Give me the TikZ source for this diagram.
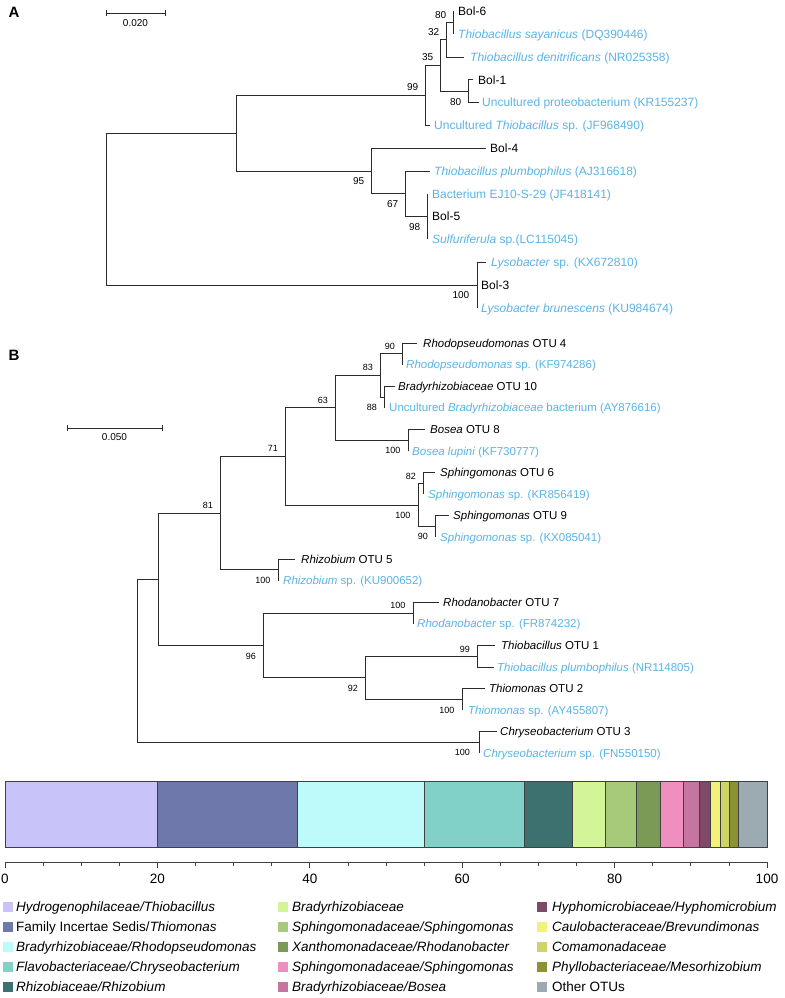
\documentclass[tikz,border=0pt]{standalone}
\usepackage{fontspec}
\setmainfont{Liberation Sans}
\usetikzlibrary{calc}
\definecolor{refblue}{HTML}{5AB4E6}
\definecolor{brc}{HTML}{2B2B2B}
\definecolor{cA}{HTML}{C8C4FA}
\definecolor{cB}{HTML}{6E78AA}
\definecolor{cC}{HTML}{BDFBFB}
\definecolor{cD}{HTML}{82D1C8}
\definecolor{cE}{HTML}{3D7170}
\definecolor{cF}{HTML}{D4F597}
\definecolor{cG}{HTML}{A6C97A}
\definecolor{cH}{HTML}{7A9A55}
\definecolor{cI}{HTML}{F08EC0}
\definecolor{cJ}{HTML}{C475A0}
\definecolor{cK}{HTML}{7E4A68}
\definecolor{cL}{HTML}{F2F27A}
\definecolor{cM}{HTML}{CED465}
\definecolor{cN}{HTML}{8A9234}
\definecolor{cO}{HTML}{9CABB2}
\begin{document}
\begin{tikzpicture}[x=1pt,y=-1pt,
 br/.style={draw=brc, line width=0.9pt},
 tipA/.style={anchor=west, inner sep=0pt, font=\fontsize{12}{14}\selectfont, text height=8.6pt, text depth=0pt},
 refA/.style={tipA, text=refblue},
 tipB/.style={anchor=west, inner sep=0pt, font=\fontsize{11.5}{13}\selectfont, text height=8.2pt, text depth=0pt},
 refB/.style={tipB, text=refblue},
 bsA/.style={inner sep=0pt, font=\fontsize{10}{12}\selectfont, text height=7.2pt, text depth=0pt},
 bsB/.style={inner sep=0pt, font=\fontsize{9}{11}\selectfont, text height=6.5pt, text depth=0pt},
 bup/.style={anchor=south east},
 bdn/.style={anchor=north east},
 panel/.style={inner sep=0pt, font=\bfseries\fontsize{15}{17}\selectfont},
 sclab/.style={inner sep=0pt, font=\fontsize{10}{12}\selectfont},
 axlab/.style={inner sep=0pt, font=\fontsize{13.5}{15}\selectfont},
 legsq/.style={minimum size=10.5pt, inner sep=0pt, draw=none},
 legtx/.style={anchor=west, inner sep=0pt, font=\fontsize{13.5}{15}\selectfont, text height=9.7pt, text depth=0pt},
 seg/.style={draw=black!75, line width=0.6pt}
]
\path[use as bounding box] (0,0) rectangle (784,998);
\fill[white] (0,0) rectangle (784,998);

% ---------------- Panel A ----------------
\node[panel] (labA) at (14,12) {A};
\coordinate (sA1) at (106,13);
\coordinate (sA2) at (165,13);
\draw[br] (sA1) -- (sA2);
\draw[br] ($(sA1)+(0,-3)$) -- ($(sA1)+(0,3)$);
\draw[br] ($(sA2)+(0,-3)$) -- ($(sA2)+(0,3)$);
\node[sclab] (scA) at (135.5,23.5) {0.020};

\coordinate (rA) at (106,209);
\coordinate (a1) at (236,133.2);
\coordinate (a99) at (425,95.5);
\coordinate (a35) at (440,65.55);
\coordinate (a32) at (446,39.9);
\coordinate (a80) at (453,22.8);
\coordinate (a80b) at (468,91.2);
\coordinate (a95) at (371,171);
\coordinate (a67) at (405,193.8);
\coordinate (a98) at (427,216.6);
\coordinate (a100) at (477,285);

\coordinate (tA0) at (453,11.4);
\coordinate (tA1) at (453,34.2);
\coordinate (tA2) at (464,57);
\coordinate (tA3) at (473,79.8);
\coordinate (tA4) at (479,102.6);
\coordinate (tA5) at (430,125.4);
\coordinate (tA6) at (486,148.2);
\coordinate (tA7) at (430,171);
\coordinate (tA8) at (427,193.8);
\coordinate (tA9) at (427,216.6);
\coordinate (tA10) at (427,239.4);
\coordinate (tA11) at (486,262.2);
\coordinate (tA12) at (477,285);
\coordinate (tA13) at (477,307.8);

\node[tipA] (lA0) at (458,11.4) {Bol-6};
\node[refA] (lA1) at (458,34.2) {\textit{Thiobacillus sayanicus} (DQ390446)};
\node[refA] (lA2) at (470,57) {\textit{Thiobacillus denitrificans} (NR025358)};
\node[tipA] (lA3) at (478,79.8) {Bol-1};
\node[refA] (lA4) at (482,102.6) {Uncultured proteobacterium (KR155237)};
\node[refA] (lA5) at (434,125.4) {Uncultured \textit{Thiobacillus} sp. (JF968490)};
\node[tipA] (lA6) at (490,148.2) {Bol-4};
\node[refA] (lA7) at (434,171) {\textit{Thiobacillus plumbophilus} (AJ316618)};
\node[refA] (lA8) at (432,193.8) {Bacterium EJ10-S-29 (JF418141)};
\node[tipA] (lA9) at (432,216.6) {Bol-5};
\node[refA] (lA10) at (432,239.4) {\textit{Sulfuriferula} sp.(LC115045)};
\node[refA] (lA11) at (491,262.2) {\textit{Lysobacter} sp. (KX672810)};
\node[tipA] (lA12) at (481,285) {Bol-3};
\node[refA] (lA13) at (481,307.8) {\textit{Lysobacter brunescens} (KU984674)};

\draw[br] (rA) |- (a1);
\draw[br] (rA) |- (a100);
\draw[br] (a1) |- (a99);
\draw[br] (a1) |- (a95);
\draw[br] (a99) |- (a35);
\draw[br] (a99) |- (tA5);
\draw[br] (a35) |- (a32);
\draw[br] (a35) |- (a80b);
\draw[br] (a32) |- (a80);
\draw[br] (a32) |- (tA2);
\draw[br] (a80) |- (tA0);
\draw[br] (a80) |- (tA1);
\draw[br] (a80b) |- (tA3);
\draw[br] (a80b) |- (tA4);
\draw[br] (a95) |- (tA6);
\draw[br] (a95) |- (a67);
\draw[br] (a67) |- (tA7);
\draw[br] (a67) |- (a98);
\draw[br] (a98) |- (tA8);
\draw[br] (a98) |- (tA10);
\draw[br] (a100) |- (tA11);
\draw[br] (a100) |- (tA13);

\node[bsA,bup] (bA80) at ($(a80)+(-6.5,-4.4)$) {80};
\node[bsA,bup] (bA32) at ($(a32)+(-6.5,-4.4)$) {32};
\node[bsA,bup] (bA35) at ($(a35)+(-6.5,-4.4)$) {35};
\node[bsA,bup] (bA99) at ($(a99)+(-6.5,-4.4)$) {99};
\node[bsA,bdn] (bA80b) at ($(a80b)+(-6.5,6.4)$) {80};
\node[bsA,bdn] (bA95) at ($(a95)+(-6.5,6.4)$) {95};
\node[bsA,bdn] (bA67) at ($(a67)+(-6.5,6.4)$) {67};
\node[bsA,bdn] (bA98) at ($(a98)+(-6.5,6.4)$) {98};
\node[bsA,bdn] (bA100) at ($(a100)+(-7.5,6.4)$) {100};

% ---------------- Panel B ----------------
\node[panel] (labB) at (14,355) {B};
\coordinate (sB1) at (67,428);
\coordinate (sB2) at (162,428);
\draw[br] (sB1) -- (sB2);
\draw[br] ($(sB1)+(0,-3)$) -- ($(sB1)+(0,3)$);
\draw[br] ($(sB2)+(0,-3)$) -- ($(sB2)+(0,3)$);
\node[sclab] (scB) at (114.5,437.5) {0.050};

\coordinate (rB) at (137,660.9);
\coordinate (bX) at (158,579.25);
\coordinate (b81) at (220,513.1);
\coordinate (b71) at (285,456.4);
\coordinate (b63) at (335,407.8);
\coordinate (b83) at (380,375.4);
\coordinate (b90a) at (402,353.8);
\coordinate (b88) at (384,397);
\coordinate (b100a) at (408,440.2);
\coordinate (b100b) at (418,505);
\coordinate (b82) at (423,483.4);
\coordinate (b90b) at (435,526.6);
\coordinate (b100c) at (278,569.8);
\coordinate (b96) at (263,645.4);
\coordinate (b100d) at (413,613);
\coordinate (b92) at (365,677.8);
\coordinate (b99) at (477,656.2);
\coordinate (b100e) at (462,699.4);
\coordinate (b100f) at (479,742.6);

\coordinate (tB0) at (417,343);
\coordinate (tB1) at (402,364.6);
\coordinate (tB2) at (395,386.2);
\coordinate (tB3) at (384,407.8);
\coordinate (tB4) at (425,429.4);
\coordinate (tB5) at (408,451);
\coordinate (tB6) at (435,472.6);
\coordinate (tB7) at (423,494.2);
\coordinate (tB8) at (449,515.8);
\coordinate (tB9) at (435,537.4);
\coordinate (tB10) at (295,559);
\coordinate (tB11) at (278,580.6);
\coordinate (tB12) at (439,602.2);
\coordinate (tB13) at (413,623.8);
\coordinate (tB14) at (495,645.4);
\coordinate (tB15) at (494,667);
\coordinate (tB16) at (485,688.6);
\coordinate (tB17) at (462,710.2);
\coordinate (tB18) at (497,731.8);
\coordinate (tB19) at (479,753.4);

\node[tipB] (lB0) at (423,343) {\textit{Rhodopseudomonas} OTU 4};
\node[refB] (lB1) at (406,364.6) {\textit{Rhodopseudomonas} sp. (KF974286)};
\node[tipB] (lB2) at (398,386.2) {\textit{Bradyrhizobiaceae} OTU 10};
\node[refB] (lB3) at (389,407.8) {Uncultured \textit{Bradyrhizobiaceae} bacterium (AY876616)};
\node[tipB] (lB4) at (430,429.4) {\textit{Bosea} OTU 8};
\node[refB] (lB5) at (412,451) {\textit{Bosea lupini} (KF730777)};
\node[tipB] (lB6) at (440,472.6) {\textit{Sphingomonas} OTU 6};
\node[refB] (lB7) at (428,494.2) {\textit{Sphingomonas} sp. (KR856419)};
\node[tipB] (lB8) at (453,515.8) {\textit{Sphingomonas} OTU 9};
\node[refB] (lB9) at (440,537.4) {\textit{Sphingomonas} sp. (KX085041)};
\node[tipB] (lB10) at (301,559) {\textit{Rhizobium} OTU 5};
\node[refB] (lB11) at (283,580.6) {\textit{Rhizobium} sp. (KU900652)};
\node[tipB] (lB12) at (443,602.2) {\textit{Rhodanobacter} OTU 7};
\node[refB] (lB13) at (417,623.8) {\textit{Rhodanobacter} sp. (FR874232)};
\node[tipB] (lB14) at (501,645.4) {\textit{Thiobacillus} OTU 1};
\node[refB] (lB15) at (497,667) {\textit{Thiobacillus plumbophilus} (NR114805)};
\node[tipB] (lB16) at (489,688.6) {\textit{Thiomonas} OTU 2};
\node[refB] (lB17) at (468,710.2) {\textit{Thiomonas} sp. (AY455807)};
\node[tipB] (lB18) at (500,731.8) {\textit{Chryseobacterium} OTU 3};
\node[refB] (lB19) at (483,753.4) {\textit{Chryseobacterium} sp. (FN550150)};

\draw[br] (rB) |- (bX);
\draw[br] (rB) |- (b100f);
\draw[br] (bX) |- (b81);
\draw[br] (bX) |- (b96);
\draw[br] (b81) |- (b71);
\draw[br] (b81) |- (b100c);
\draw[br] (b71) |- (b63);
\draw[br] (b71) |- (b100b);
\draw[br] (b63) |- (b83);
\draw[br] (b63) |- (b100a);
\draw[br] (b83) |- (b90a);
\draw[br] (b83) |- (b88);
\draw[br] (b90a) |- (tB0);
\draw[br] (b90a) |- (tB1);
\draw[br] (b88) |- (tB2);
\draw[br] (b88) |- (tB3);
\draw[br] (b100a) |- (tB4);
\draw[br] (b100a) |- (tB5);
\draw[br] (b100b) |- (b82);
\draw[br] (b100b) |- (b90b);
\draw[br] (b82) |- (tB6);
\draw[br] (b82) |- (tB7);
\draw[br] (b90b) |- (tB8);
\draw[br] (b90b) |- (tB9);
\draw[br] (b100c) |- (tB10);
\draw[br] (b100c) |- (tB11);
\draw[br] (b96) |- (b100d);
\draw[br] (b96) |- (b92);
\draw[br] (b100d) |- (tB12);
\draw[br] (b100d) |- (tB13);
\draw[br] (b92) |- (b99);
\draw[br] (b92) |- (b100e);
\draw[br] (b99) |- (tB14);
\draw[br] (b99) |- (tB15);
\draw[br] (b100e) |- (tB16);
\draw[br] (b100e) |- (tB17);
\draw[br] (b100f) |- (tB18);
\draw[br] (b100f) |- (tB19);

\node[bsB,bup] (bB90a) at ($(b90a)+(-7,-4.5)$) {90};
\node[bsB,bup] (bB83) at ($(b83)+(-7,-4.5)$) {83};
\node[bsB,bdn] (bB88) at ($(b88)+(-7,7)$) {88};
\node[bsB,bup] (bB63) at ($(b63)+(-7,-4.5)$) {63};
\node[bsB,bdn] (bB100a) at ($(b100a)+(-7.5,7)$) {100};
\node[bsB,bup] (bB71) at ($(b71)+(-7,-4.5)$) {71};
\node[bsB,bup] (bB82) at ($(b82)+(-7,-4)$) {82};
\node[bsB,bdn] (bB100b) at ($(b100b)+(-7.5,6.5)$) {100};
\node[bsB,bdn] (bB90b) at ($(b90b)+(-7,6.5)$) {90};
\node[bsB,bup] (bB81) at ($(b81)+(-7,-4)$) {81};
\node[bsB,bdn] (bB100c) at ($(b100c)+(-7.5,6.5)$) {100};
\node[bsB,bup] (bB100d) at ($(b100d)+(-7.5,-4)$) {100};
\node[bsB,bdn] (bB96) at ($(b96)+(-7,7)$) {96};
\node[bsB,bup] (bB99) at ($(b99)+(-7,-4)$) {99};
\node[bsB,bdn] (bB92) at ($(b92)+(-7,6.5)$) {92};
\node[bsB,bdn] (bB100e) at ($(b100e)+(-7.5,7)$) {100};
\node[bsB,bdn] (bB100f) at ($(b100f)+(-9,6.5)$) {100};

% ---------------- Bar chart ----------------
\foreach \pa/\pb/\cc in {0/20/cA,20/38.4/cB,38.4/55/cC,55/68.1/cD,68.1/74.5/cE,74.5/78.8/cF,78.8/82.9/cG,82.9/86/cH,86/89/cI,89/91.1/cJ,91.1/92.6/cK,92.6/93.9/cL,93.9/95.1/cM,95.1/96.2/cN,96.2/100/cO}{
  \path[seg, fill=\cc] ({5+7.62*\pa},781) rectangle ({5+7.62*\pb},847);
}
\coordinate (ax0) at (5,862);
\coordinate (ax1) at (767,862);
\draw[draw=black!75, line width=0.8pt] (ax0) -- (ax1);
\foreach \p in {0,5,...,100}{
  \draw[draw=black!75, line width=0.8pt] ({5+7.62*\p},862) -- ++(0,4);
}
\foreach \p in {0,20,40,60,80,100}{
  \draw[draw=black!75, line width=0.8pt] ({5+7.62*\p},862) -- ++(0,6);
  \node[axlab] (ax\p) at ({5+7.62*\p},879) {\p};
}

% ---------------- Legend ----------------
\node[legsq, fill=cA] (lg1) at (8,907) {};
\node[legtx] (lt1) at (16,907) {\textit{Hydrogenophilaceae/Thiobacillus}};
\node[legsq, fill=cB] (lg2) at (8,927) {};
\node[legtx] (lt2) at (16,927) {Family Incertae Sedis/\textit{Thiomonas}};
\node[legsq, fill=cC] (lg3) at (8,947) {};
\node[legtx] (lt3) at (16,947) {\textit{Bradyrhizobiaceae/Rhodopseudomonas}};
\node[legsq, fill=cD] (lg4) at (8,967) {};
\node[legtx] (lt4) at (16,967) {\textit{Flavobacteriaceae/Chryseobacterium}};
\node[legsq, fill=cE] (lg5) at (8,987) {};
\node[legtx] (lt5) at (16,987) {\textit{Rhizobiaceae/Rhizobium}};

\node[legsq, fill=cF] (lg6) at (283,907) {};
\node[legtx] (lt6) at (292,907) {\textit{Bradyrhizobiaceae}};
\node[legsq, fill=cG] (lg7) at (283,927) {};
\node[legtx] (lt7) at (292,927) {\textit{Sphingomonadaceae/Sphingomonas}};
\node[legsq, fill=cH] (lg8) at (283,947) {};
\node[legtx] (lt8) at (292,947) {\textit{Xanthomonadaceae/Rhodanobacter}};
\node[legsq, fill=cI] (lg9) at (283,967) {};
\node[legtx] (lt9) at (292,967) {\textit{Sphingomonadaceae/Sphingomonas}};
\node[legsq, fill=cJ] (lg10) at (283,987) {};
\node[legtx] (lt10) at (292,987) {\textit{Bradyrhizobiaceae/Bosea}};

\node[legsq, fill=cK] (lg11) at (542,907) {};
\node[legtx] (lt11) at (552,907) {\textit{Hyphomicrobiaceae/Hyphomicrobium}};
\node[legsq, fill=cL] (lg12) at (542,927) {};
\node[legtx] (lt12) at (552,927) {\textit{Caulobacteraceae/Brevundimonas}};
\node[legsq, fill=cM] (lg13) at (542,947) {};
\node[legtx] (lt13) at (552,947) {\textit{Comamonadaceae}};
\node[legsq, fill=cN] (lg14) at (542,967) {};
\node[legtx] (lt14) at (552,967) {\textit{Phyllobacteriaceae/Mesorhizobium}};
\node[legsq, fill=cO] (lg15) at (542,987) {};
\node[legtx] (lt15) at (552,987) {Other OTUs};
\end{tikzpicture}
\end{document}
